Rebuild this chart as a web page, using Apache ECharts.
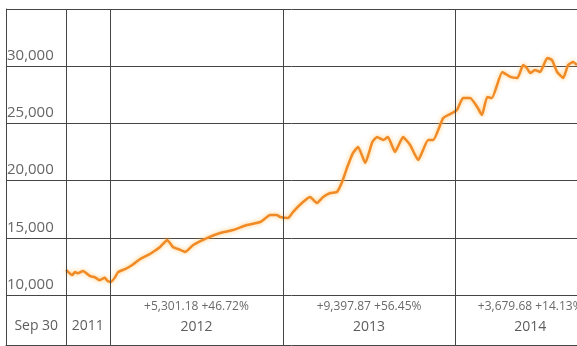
<!DOCTYPE html>
<html>
<head>
<meta charset="utf-8">
<script src="https://cdn.jsdelivr.net/npm/echarts@6/dist/echarts.min.js"></script>
<style>
html,body{margin:0;padding:0;background:#fff;}
#chart{width:577px;height:346px;}
</style>
</head>
<body>
<div id="chart"></div>
<script>
// ---- data ----
const dates = ['2011-09-30','2011-10-13','2011-10-19','2011-10-25','2011-11-05','2011-11-20','2011-11-30','2011-12-10','2011-12-21','2011-12-27',
'2012-01-03','2012-01-12','2012-01-18','2012-02-02','2012-02-17','2012-03-05','2012-03-22','2012-04-01','2012-04-16','2012-04-26','2012-05-01','2012-05-13','2012-05-24','2012-06-08','2012-06-25','2012-07-24','2012-08-21','2012-09-17','2012-10-17','2012-11-14','2012-12-05','2012-12-19','2012-12-26',
'2013-01-12','2013-01-22','2013-02-10','2013-02-27','2013-03-14','2013-03-27','2013-04-11','2013-04-25','2013-05-06','2013-05-17','2013-05-29','2013-06-09','2013-06-24','2013-07-09','2013-07-19','2013-08-01','2013-08-11','2013-08-26','2013-09-12','2013-09-27','2013-10-14','2013-11-04','2013-11-15','2013-12-06','2013-12-25',
'2014-01-04','2014-01-17','2014-02-01','2014-02-16','2014-02-26','2014-03-09','2014-03-19','2014-04-10','2014-04-27','2014-05-12','2014-05-24','2014-06-01','2014-06-08','2014-06-18','2014-06-29','2014-07-14','2014-07-24','2014-08-04','2014-08-17','2014-08-27','2014-09-07','2014-09-15'];
const values = [12200,11750,12000,11900,12100,11650,11550,11300,11500,11220,
11140,11570,12000,12270,12620,13150,13500,13760,14200,14630,14810,14200,14020,13760,14370,14980,15420,15680,16120,16380,16990,16990,16820,
16730,17250,18040,18570,18040,18570,18920,19000,19880,21190,22410,22940,21540,23370,23810,23550,23810,22500,23810,23110,21800,23550,23550,25470,25910,
26170,27220,27220,26430,25730,27310,27220,29490,29060,28970,30100,29840,29400,29670,29490,30720,30540,29490,28970,30100,30370,30100];
const yTicks = [10000,15000,20000,25000,30000];
const yTickLabels = ['10,000','15,000','20,000','25,000','30,000'];
const boundaryDates = ['2011-09-30','2012-01-01','2013-01-01','2014-01-01'];
const colLabelDates = ['2011-07-29','2011-11-15','2012-07-02','2013-07-02','2014-06-08'];
const colLine1 = ['','','+5,301.18 +46.72%','+9,397.87 +56.45%','+3,679.68 +14.13%'];
const colLine2 = ['Sep 30','2011','2012','2013','2014'];
const xMin = '2011-05-26', xMax = '2014-09-15';
const yMax = 35000;

// ---- chart ----
const t = s => +new Date(s + 'T00:00:00');
const lineColor = '#454545';
const font = 'Open Sans';
const chart = echarts.init(document.getElementById('chart'));
const vLines = {
  silent: true, symbol: 'none', animation: false,
  label: {show: false},
  lineStyle: {color: lineColor, width: 1, type: 'solid'},
  data: boundaryDates.map(d => ({xAxis: t(d)}))
};
chart.setOption({
  animation: false,
  backgroundColor: '#ffffff',
  grid: [
    {left: 6, right: 0, top: 9, bottom: 51},
    {left: 6, right: 0, top: 295, bottom: 1}
  ],
  xAxis: [
    {type: 'time', gridIndex: 0, min: t(xMin), max: t(xMax), show: true,
     axisLine: {show: false}, axisTick: {show: false}, axisLabel: {show: false}, splitLine: {show: false}},
    {type: 'time', gridIndex: 1, min: t(xMin), max: t(xMax),
     axisLine: {show: true, lineStyle: {color: lineColor, width: 1}}, axisTick: {show: false}, axisLabel: {show: false}, splitLine: {show: false}}
  ],
  yAxis: [
    {type: 'value', gridIndex: 0, min: yTicks[0], max: yMax, interval: 5000,
     axisLine: {show: true, lineStyle: {color: lineColor, width: 1}},
     axisTick: {show: false},
     splitLine: {show: true, lineStyle: {color: lineColor, width: 1}},
     axisLabel: {
       inside: true, margin: 1, align: 'left', verticalAlign: 'bottom', padding: [0,0,3,0],
       fontFamily: font, fontSize: 15, color: '#666',
       formatter: v => { const i = yTicks.indexOf(v); return i >= 0 ? yTickLabels[i] : ''; }
     }},
    {type: 'value', gridIndex: 1, min: 0, max: 1,
     axisLine: {show: true, lineStyle: {color: lineColor, width: 1}},
     axisTick: {show: false}, axisLabel: {show: false}, splitLine: {show: false}}
  ],
  series: [
    {
      type: 'line', xAxisIndex: 0, yAxisIndex: 0,
      data: dates.map((d, i) => [t(d), values[i]]),
      showSymbol: false, smooth: 0.15,
      lineStyle: {color: '#f08a26', width: 2.5, shadowColor: 'rgba(255,190,90,0.85)', shadowBlur: 4},
      markLine: vLines
    },
    {
      type: 'scatter', xAxisIndex: 1, yAxisIndex: 1, symbolSize: 0, silent: true,
      data: colLabelDates.map((d, i) => ({
        value: [t(d), 0.5],
        label: {offset: [0, colLine1[i] ? -3 : 6]}
      })),
      label: {
        show: true, position: 'inside',
        formatter: p => {
          const i = p.dataIndex;
          return colLine1[i] ? `{a|${colLine1[i]}}\n{b|${colLine2[i]}}` : `{b|${colLine2[i]}}`;
        },
        rich: {
          a: {fontFamily: font, fontSize: 12, color: '#444', lineHeight: 21, align: 'center'},
          b: {fontFamily: font, fontSize: 14, color: '#333', lineHeight: 21, align: 'center'}
        }
      },
      markLine: vLines
    }
  ]
});
</script>
</body>
</html>
